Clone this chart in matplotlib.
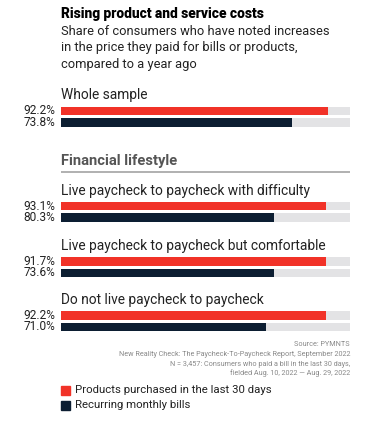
import matplotlib
matplotlib.use("Agg")
import matplotlib.pyplot as plt
from matplotlib.patches import Rectangle

# chart data
groups = ["Whole sample",
          "Live paycheck to paycheck with difficulty",
          "Live paycheck to paycheck but comfortable",
          "Do not live paycheck to paycheck"]
products_label = [92.2, 93.1, 91.7, 92.2]
bills_label = [73.8, 80.3, 73.6, 71.0]
# bar lengths as drawn in the picture
products_bar = [92.4, 91.7, 91.7, 91.7]
bills_bar = [79.8, 73.7, 73.7, 70.8]
series_names = ["Products purchased in the last 30 days", "Recurring monthly bills"]
source_lines = ["Source: PYMNTS",
                "New Reality Check: The Paycheck-To-Paycheck Report, September 2022",
                "N = 3,457: Consumers who paid a bill in the last 30 days,",
                "fielded Aug. 10, 2022 \u2014 Aug. 29, 2022"]

RED = "#f13228"
NAVY = "#0c1e32"
TRACK = "#e3e3e5"
FONT = "Roboto"

W, H = 377, 446
fig = plt.figure(figsize=(W / 100, H / 100), dpi=100)
ax = fig.add_axes([0, 0, 1, 1])
# x in percent: 0 at px 61, 100 at px 350
px = 2.89
ax.set_xlim(-61 / px, (W - 61) / px)
ax.set_ylim(H, 0)
ax.axis("off")

def xp(p):
    return (p - 61) / px

# title block
ax.text(0, 14, "Rising product and service costs", fontsize=9.9, fontweight="heavy",
        family=FONT, va="center", color="#000000")
for i, line in enumerate(["Share of consumers who have noted increases",
                          "in the price they paid for bills or products,",
                          "compared to a year ago"]):
    ax.text(0, 31.5 + i * 16.5, line, fontsize=9.3, family=FONT, va="center", color="#222222")

# group label y and bar centres
label_y = [95.5, 190.5, 246, 300]
bar_h = 8.5
offset_red, offset_navy = 15.5, 27

def draw_group(i):
    ax.text(0, label_y[i], groups[i], fontsize=9.9, family=FONT, va="center", color="#222222")
    yr = label_y[i] + offset_red
    yn = label_y[i] + offset_navy
    ax.barh([yr, yn], [100, 100], height=bar_h, color=TRACK, left=0)
    ax.barh(yr, products_bar[i], height=bar_h, color=RED)
    ax.barh(yn, bills_bar[i], height=bar_h, color=NAVY)
    ax.text(xp(55.5), yr, f"{products_label[i]:.1f}%", ha="right", va="center",
            fontsize=8.6, family=FONT, color="#222222")
    ax.text(xp(55.5), yn, f"{bills_label[i]:.1f}%", ha="right", va="center",
            fontsize=8.6, family=FONT, color="#222222")

draw_group(0)

# section header
ax.text(0, 160.5, "Financial lifestyle", fontsize=10.6, fontweight="bold", family=FONT,
        va="center", color="#555555")
ax.plot([0, 100], [172, 172], color="#aaaaaa", lw=1.3, solid_capstyle="butt")

for i in range(1, 4):
    draw_group(i)

# source note
for i, line in enumerate(source_lines):
    ax.text(100, 345 + i * 9.5, line, ha="right", va="center", fontsize=5.2,
            family=FONT, color="#888888")

# legend
for i, (name, col) in enumerate(zip(series_names, [RED, NAVY])):
    y = 390 + i * 15.5
    ax.add_patch(Rectangle((0, y - 4.5), 9 / px, 9, color=col))
    ax.text(xp(75), y, name, fontsize=8.2, family=FONT, va="center", color="#222222")

fig.savefig("out.png", dpi=100)
